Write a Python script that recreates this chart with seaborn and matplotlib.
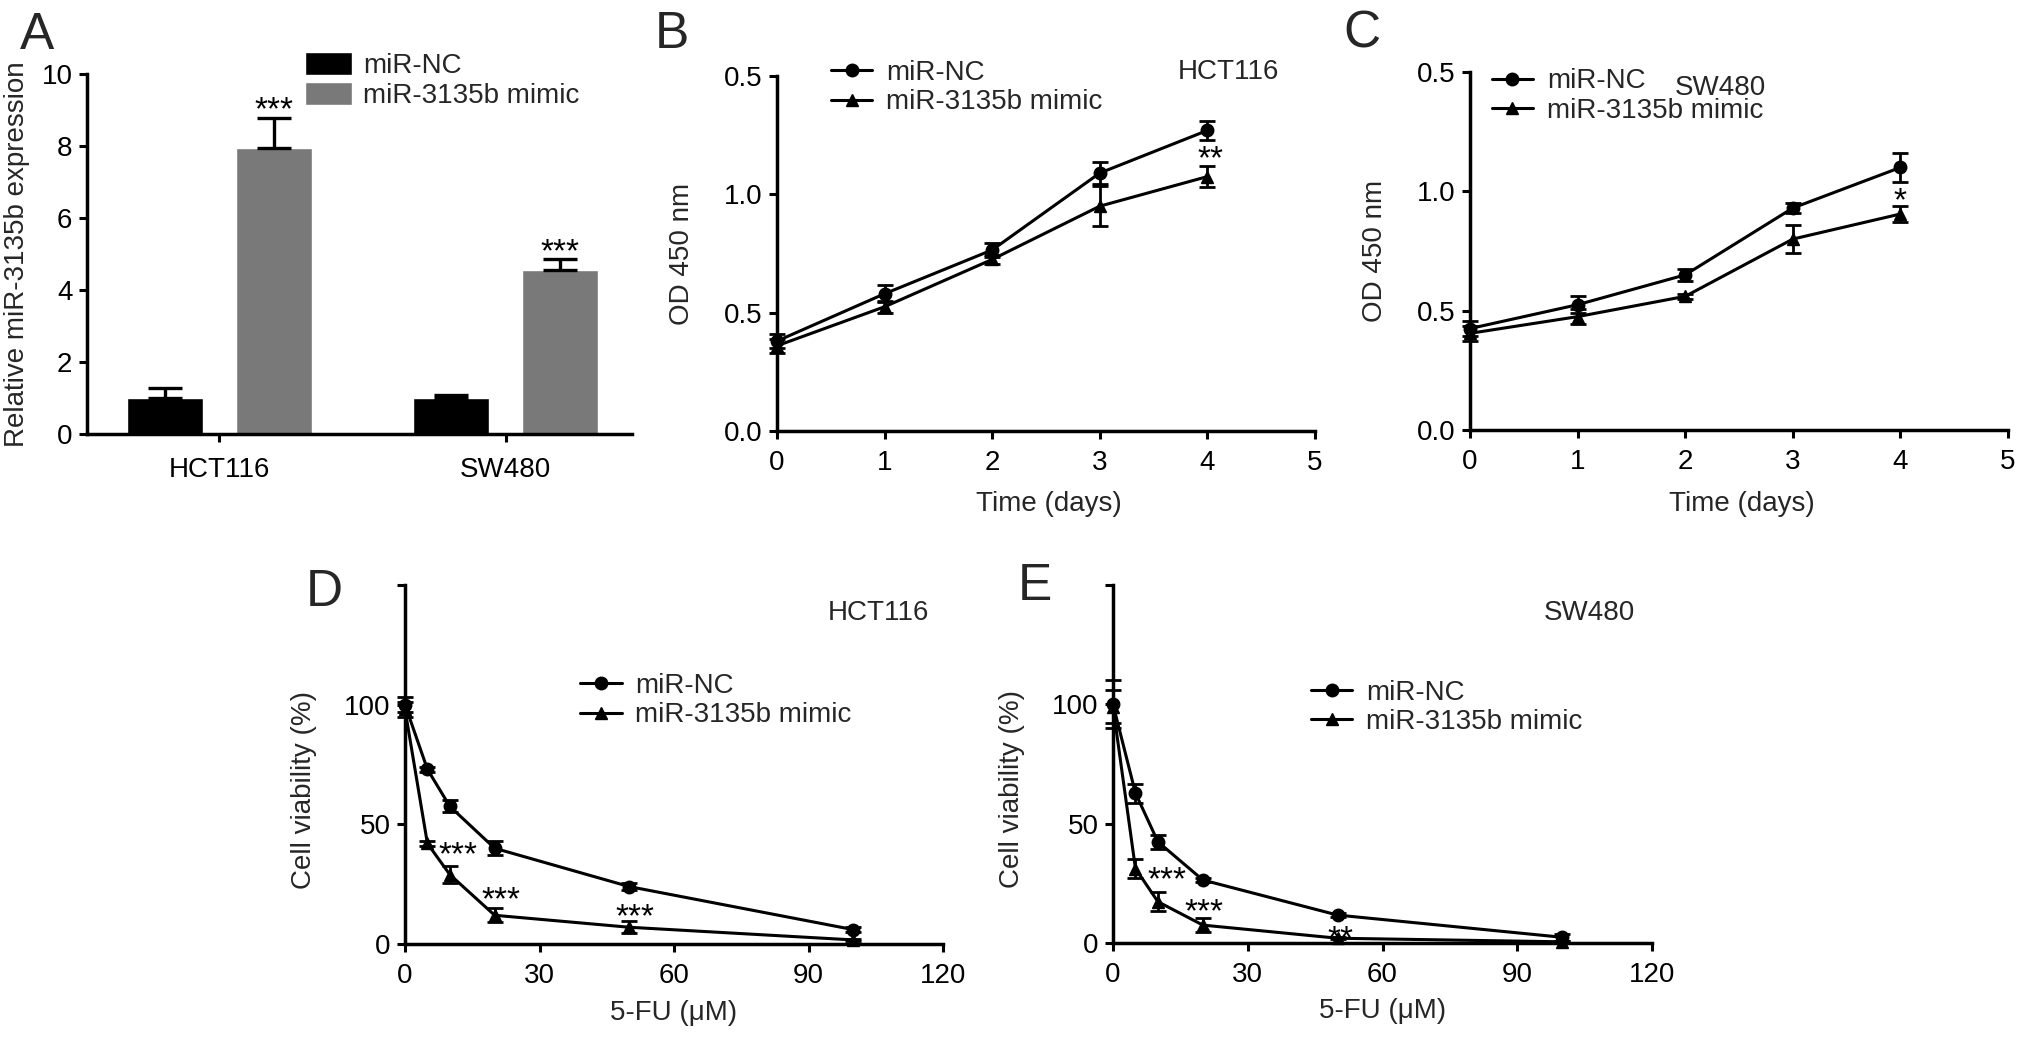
import matplotlib
matplotlib.use('Agg')
import numpy as np
import pandas as pd
import matplotlib.pyplot as plt
import seaborn as sns

# ---- data ----
groups = ['miR-NC', 'miR-3135b mimic']

# A: relative miR-3135b expression
cell_lines = ['HCT116', 'SW480']
expr_nc = [1.0, 1.0]
expr_mimic = [7.94, 4.56]
expr_nc_err = [0.28, 0.08]
expr_mimic_err = [0.83, 0.31]
expr_stars = [(0, 9.28, '***'), (1, 5.33, '***')]

# B / C: CCK-8 growth curves
days = [0, 1, 2, 3, 4]
hct_od_nc = [0.38, 0.58, 0.765, 1.09, 1.27]
hct_od_nc_err = [0.03, 0.035, 0.03, 0.045, 0.04]
hct_od_mimic = [0.36, 0.525, 0.725, 0.95, 1.075]
hct_od_mimic_err = [0.03, 0.025, 0.02, 0.085, 0.045]
hct_od_stars = [(4.03, 1.19, '**')]

sw_od_nc = [0.425, 0.525, 0.65, 0.93, 1.10]
sw_od_nc_err = [0.03, 0.035, 0.025, 0.02, 0.06]
sw_od_mimic = [0.405, 0.475, 0.56, 0.80, 0.905]
sw_od_mimic_err = [0.03, 0.03, 0.01, 0.058, 0.035]
sw_od_stars = [(4.0, 1.0, '*')]

# D / E: 5-FU dose response
dose = [0, 5, 10, 20, 50, 100]
hct_via_nc = [100, 73, 57.5, 40, 24, 6]
hct_via_nc_err = [3, 1, 2.5, 3, 1.5, 1]
hct_via_mimic = [98, 42, 29, 12, 7, 1.7]
hct_via_mimic_err = [3, 1, 3.5, 3, 2.5, 0.5]
hct_via_stars = [(11.9, 41.4, '***'), (21.3, 22.6, '***'), (51.2, 15.5, '***')]

sw_via_nc = [100, 62.8, 42.4, 26.4, 11.7, 2.4]
sw_via_nc_err = [10, 4, 3, 1, 1, 1.5]
sw_via_mimic = [99, 31.2, 17.3, 7.5, 2.0, 0.5]
sw_via_mimic_err = [7, 4, 4, 3, 0.5, 0.5]
sw_via_stars = [(12.0, 30.5, '***'), (20.2, 17.3, '***'), (50.6, 6.1, '**')]

# ---- style ----
sns.set_theme(style='ticks')
plt.rcParams['font.family'] = ['Liberation Sans', 'DejaVu Sans']
plt.rcParams['axes.linewidth'] = 2.5
FS = 20
STAR_FS = 24
W, H = 2031, 1038

fig = plt.figure(figsize=(W / 100, H / 100), dpi=100)


def px_axes(left, top, right, bottom):
    return fig.add_axes([left / W, 1 - bottom / H, (right - left) / W, (bottom - top) / H])


def prism(ax, xpad=8, ypad=5):
    sns.despine(ax=ax)
    ax.tick_params(direction='out', length=5.5, width=2.2, colors='black', labelsize=FS)
    ax.tick_params(axis='x', pad=xpad)
    ax.tick_params(axis='y', pad=ypad)
    for s in ['left', 'bottom']:
        ax.spines[s].set_color('black')
    ax.grid(False)


def stars(ax, items, dx=0.0):
    for x, y, t in items:
        ax.annotate(t, xy=(x + dx, y), xytext=(0, -0.58 * STAR_FS), textcoords='offset points',
                    ha='center', va='baseline', fontsize=STAR_FS, color='black')


def curve_panel(ax, xs, nc, nc_err, mimic, mimic_err, xcol):
    n = len(xs)
    df = pd.DataFrame({
        xcol: list(xs) * 2,
        'val': nc + mimic,
        'err': nc_err + mimic_err,
        'group': [groups[0]] * n + [groups[1]] * n,
    })
    sns.lineplot(data=df, x=xcol, y='val', style='group', markers={groups[0]: 'o', groups[1]: '^'},
                 dashes=False, color='black', linewidth=2.2, markersize=9, mec='black', mew=1,
                 ax=ax, clip_on=False, zorder=3)
    ax.errorbar(df[xcol], df['val'], yerr=df['err'], fmt='none', ecolor='black',
                elinewidth=2, capsize=6, capthick=2, clip_on=False, zorder=3)
    handles, labels = ax.get_legend_handles_labels()
    for h in handles:
        h.set_color('black')
        h.set_markerfacecolor('black')
        h.set_markeredgecolor('black')
        h.set_linewidth(2.2)
        h.set_markersize(9)
    return handles, labels


def line_legend(ax, handles, labels, x, y):
    ax.legend(handles, labels, loc='upper left', bbox_to_anchor=(x, y), frameon=False,
              fontsize=FS, borderpad=0, borderaxespad=0, handlelength=1.5,
              handletextpad=0.5, labelspacing=0.12)


# ---- A ----
axA = px_axes(87, 74, 632, 434)
dfA = pd.DataFrame({
    'cell': cell_lines * 2,
    'expr': expr_nc + expr_mimic,
    'group': [groups[0]] * 2 + [groups[1]] * 2,
})
sns.barplot(data=dfA, x='cell', y='expr', hue='group', order=cell_lines, hue_order=groups,
            palette={groups[0]: 'black', groups[1]: '#797979'}, width=0.76, gap=0.3,
            errorbar=None, saturation=1, ax=axA)
for cont, errs in zip(axA.containers, [expr_nc_err, expr_mimic_err]):
    for bar, e in zip(cont, errs):
        axA.errorbar(bar.get_x() + bar.get_width() / 2, bar.get_height(), yerr=[[0], [e]],
                     fmt='none', ecolor='black', elinewidth=2.4, capsize=12, capthick=2.4)
axA.set_xlim(-0.463, 1.442)
axA.set_ylim(0, 10)
axA.set_yticks([0, 2, 4, 6, 8, 10])
axA.set_xlabel('')
axA.set_ylabel('Relative miR-3135b expression', fontsize=FS)
axA.yaxis.set_label_coords(-0.105, 0.5)
prism(axA, xpad=11)
stars(axA, expr_stars, dx=0.19)
hA, lA = axA.get_legend_handles_labels()
axA.legend(hA, lA, loc='upper left', bbox_to_anchor=(0.4, 1.06), frameon=False, fontsize=FS,
           borderpad=0, borderaxespad=0, handlelength=1.7, handleheight=0.85,
           handletextpad=0.4, labelspacing=0.12)

# ---- B / C ----
for (l, t, r, b), nc, nce, mi, mie, st, name, lg, lab in [
    ((777, 76, 1315, 431), hct_od_nc, hct_od_nc_err, hct_od_mimic, hct_od_mimic_err,
     hct_od_stars, 'HCT116', (0.1, 1.045), (0.745, 1.011)),
    ((1470, 72, 2008, 430), sw_od_nc, sw_od_nc_err, sw_od_mimic, sw_od_mimic_err,
     sw_od_stars, 'SW480', (0.04, 1.01), (0.38, 0.955)),
]:
    ax = px_axes(l, t, r, b)
    hd, lb = curve_panel(ax, days, nc, nce, mi, mie, 'day')
    ax.set_xlim(0, 5)
    ax.set_ylim(0, 1.5)
    ax.set_xticks([0, 1, 2, 3, 4, 5])
    ax.set_yticks([0, 0.5, 1.0, 1.5])
    ax.set_yticklabels(['0.0', '0.5', '1.0', '0.5'])
    ax.set_xlabel('Time (days)', fontsize=FS)
    ax.set_ylabel('OD 450 nm', fontsize=FS)
    ax.xaxis.set_label_coords(0.505, -0.17)
    ax.yaxis.set_label_coords(-0.152, 0.5)
    prism(ax)
    stars(ax, st)
    line_legend(ax, hd, lb, *lg)
    ax.text(lab[0], lab[1], name, transform=ax.transAxes, ha='left', va='center', fontsize=FS)

# ---- D / E ----
for (l, t, r, b), nc, nce, mi, mie, st, name, lg, lab in [
    ((405, 585, 943, 944), hct_via_nc, hct_via_nc_err, hct_via_mimic, hct_via_mimic_err,
     hct_via_stars, 'HCT116', (0.325, 0.755), (0.785, 0.922)),
    ((1113, 585, 1652, 943), sw_via_nc, sw_via_nc_err, sw_via_mimic, sw_via_mimic_err,
     sw_via_stars, 'SW480', (0.367, 0.735), (0.8, 0.922)),
]:
    ax = px_axes(l, t, r, b)
    hd, lb = curve_panel(ax, dose, nc, nce, mi, mie, 'dose')
    ax.set_xlim(0, 120)
    ax.set_ylim(0, 150)
    ax.set_xticks([0, 30, 60, 90, 120])
    ax.set_yticks([0, 50, 100, 150])
    ax.set_yticklabels(['0', '50', '100', ''])
    ax.set_xlabel('5-FU (\u03bcM)', fontsize=FS)
    ax.set_ylabel('Cell viability (%)', fontsize=FS)
    ax.xaxis.set_label_coords(0.5, -0.155)
    ax.yaxis.set_label_coords(-0.164, 0.43)
    prism(ax)
    stars(ax, st)
    line_legend(ax, hd, lb, *lg)
    ax.text(lab[0], lab[1], name, transform=ax.transAxes, ha='left', va='center', fontsize=FS)

# panel letters
for x, y, letter in [(20, 11, 'A'), (655, 10, 'B'), (1343, 10, 'C'), (306, 568, 'D'), (1018, 562, 'E')]:
    fig.text(x / W, 1 - y / H, letter, ha='left', va='top', fontsize=37)

fig.savefig('out.png', dpi=100)
